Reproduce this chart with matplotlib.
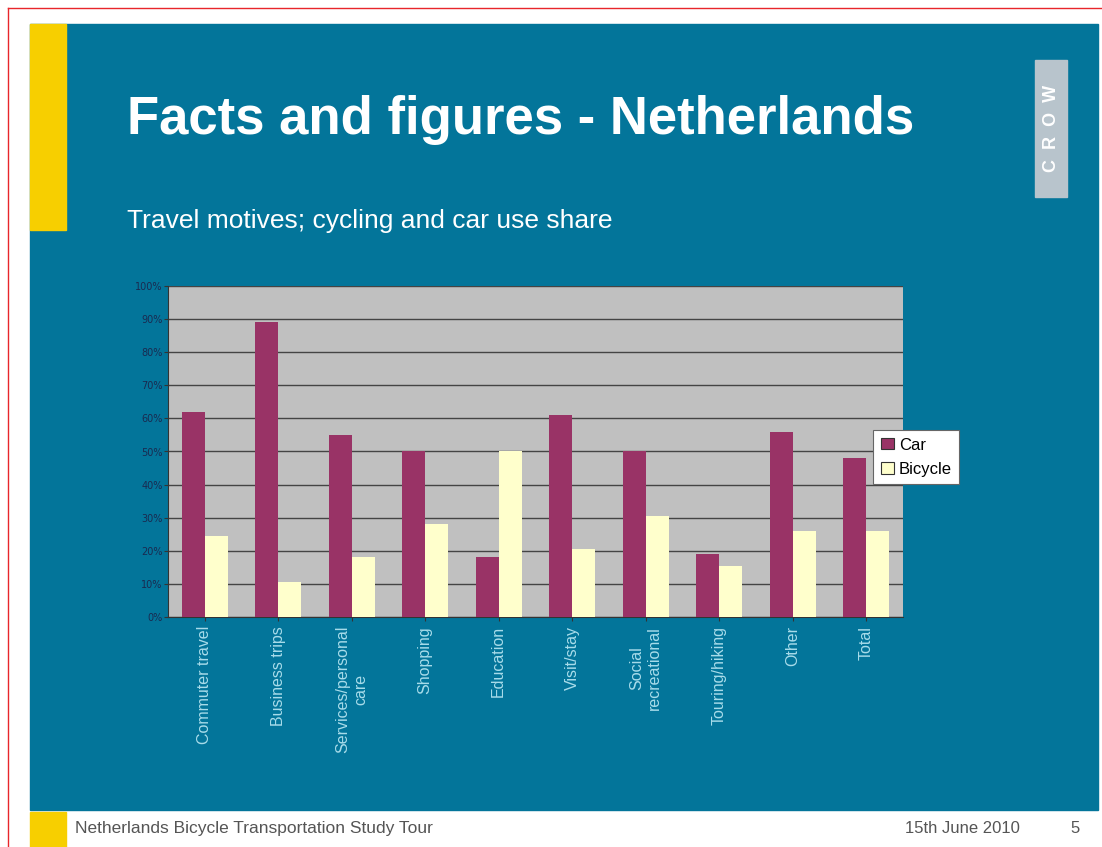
import matplotlib.pyplot as plt
import matplotlib.patches as patches
import numpy as np

# Chart data
categories = ['Commuter travel', 'Business trips', 'Services/personal\ncare', 'Shopping',
              'Education', 'Visit/stay', 'Social\nrecreational', 'Touring/hiking',
              'Other', 'Total']
car_share = [62, 89, 55, 50, 18, 61, 50, 19, 56, 48]
bicycle_share = [24.5, 10.5, 18, 28, 50, 20.5, 30.5, 15.5, 26, 26]
y_ticks = [0, 10, 20, 30, 40, 50, 60, 70, 80, 90, 100]
y_tick_labels = [str(v) + '%' for v in y_ticks]

slide_blue = '#03759a'

fig = plt.figure(figsize=(11.02, 8.47), dpi=100)
fig.patch.set_facecolor('white')

# Slide background, yellow bars and footer
fig.patches.append(patches.Rectangle((30/1102, 1-810/847), 1068/1102, 786/847,
                                     transform=fig.transFigure, color=slide_blue, zorder=0))
fig.patches.append(patches.Rectangle((30/1102, 1-230/847), 36/1102, 206/847,
                                     transform=fig.transFigure, color='#f7cf00', zorder=1))
fig.patches.append(patches.Rectangle((30/1102, 0), 36/1102, 35/847,
                                     transform=fig.transFigure, color='#f7cf00', zorder=1))
# Red border lines
fig.add_artist(plt.Line2D([8/1102, 1], [1-8/847, 1-8/847], transform=fig.transFigure,
                          color='#e8262b', lw=1))
fig.add_artist(plt.Line2D([8/1102, 8/1102], [0, 1-8/847], transform=fig.transFigure,
                          color='#e8262b', lw=1))

# CROW logo
fig.patches.append(patches.Rectangle((1035/1102, 1-197/847), 32/1102, 137/847,
                                     transform=fig.transFigure, color='#b8c4cc', zorder=1))
fig.text(1051/1102, 1-128/847, 'C  R  O  W', rotation=90, color='white', fontsize=13,
         fontweight='bold', ha='center', va='center', family='Liberation Sans')

# Titles
fig.text(127/1102, 1-120/847, 'Facts and figures - Netherlands', color='white',
         fontsize=38, fontweight='bold', ha='left', va='center', family='Liberation Sans')
fig.text(127/1102, 1-221/847, 'Travel motives; cycling and car use share', color='white',
         fontsize=19, ha='left', va='center', family='Liberation Sans')

# Footer text
fig.text(75/1102, 1-828/847, 'Netherlands Bicycle Transportation Study Tour', color='#555555',
         fontsize=12.5, ha='left', va='center', family='Liberation Sans')
fig.text(905/1102, 1-828/847, '15th June 2010', color='#555555',
         fontsize=12, ha='left', va='center', family='Liberation Sans')
fig.text(1070/1102, 1-828/847, '5', color='#555555',
         fontsize=12, ha='left', va='center', family='Liberation Sans')

# Bar chart
ax = fig.add_axes([168/1102, 1-617/847, 735/1102, 331/847])
ax.set_zorder(5)
ax.set_facecolor('#c0c0c0')
x = np.arange(len(categories))
w = 0.31
ax.bar(x - w/2, car_share, w, color='#993366', label='Car', zorder=3)
ax.bar(x + w/2, bicycle_share, w, color='#ffffcc', label='Bicycle', zorder=3)

ax.set_xlim(-0.5, len(categories) - 0.5)
ax.set_ylim(0, 100)
ax.set_yticks(y_ticks)
ax.set_yticklabels(y_tick_labels, fontsize=7, color='#1a2a50')
ax.yaxis.grid(True, color='#444444', lw=1, zorder=1)
ax.set_axisbelow(True)
ax.set_xticks(x)
ax.set_xticklabels(categories, rotation=90, fontsize=11.5, color='#a8dcea',
                   ha='center', va='top', family='Liberation Sans')
ax.tick_params(axis='x', length=3, color='#333333')
ax.tick_params(axis='y', length=3, color='#333333', pad=1)
for s in ['top', 'right']:
    ax.spines[s].set_visible(False)
ax.spines['left'].set_color('#333333')
ax.spines['bottom'].set_color('#333333')

leg = ax.legend(loc='upper left', bbox_to_anchor=((873-168)/735, (617-430)/331),
                borderaxespad=0, frameon=True, fancybox=False, edgecolor='#666666',
                framealpha=1, facecolor='white', handlelength=0.8, handletextpad=0.3,
                borderpad=0.45, labelspacing=0.55,
                prop={'family': 'Liberation Sans', 'size': 12})
leg.get_frame().set_linewidth(0.8)
for h in leg.legend_handles:
    h.set_edgecolor('#333333')
    h.set_linewidth(0.8)

fig.savefig('out.png', dpi=100, facecolor=fig.get_facecolor())
